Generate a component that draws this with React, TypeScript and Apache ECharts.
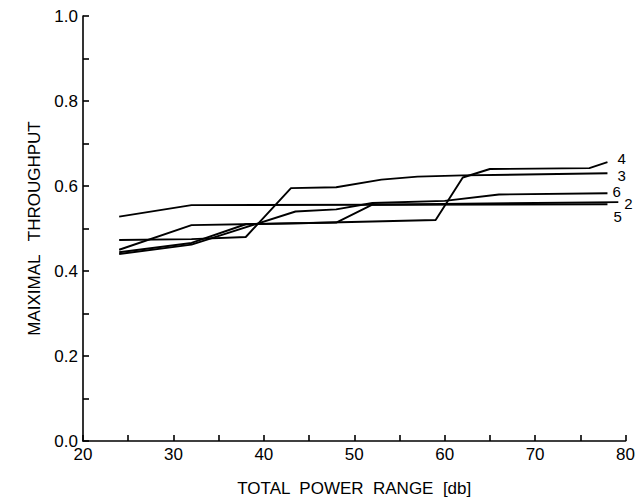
import React, { useEffect, useRef } from "react";
import * as echarts from "echarts";

// Curve values: [total power range (dB), maximal throughput]
const curve3: [number, number][] = [
  [24, 0.473], [32, 0.475], [38, 0.48], [43, 0.595], [48, 0.597], [53, 0.615], [57, 0.622], [62, 0.625], [78, 0.63],
];
const curve4: [number, number][] = [
  [24, 0.45], [32, 0.508], [45, 0.513], [59, 0.52], [62, 0.62], [65, 0.64], [76, 0.642], [78, 0.656],
];
const curve6: [number, number][] = [
  [24, 0.44], [32, 0.462], [43.5, 0.54], [48, 0.545], [52, 0.56], [60, 0.565], [66, 0.58], [78, 0.583],
];
const curve2: [number, number][] = [
  [24, 0.444], [32, 0.466], [38, 0.51], [48, 0.514], [52, 0.556], [79.2, 0.562],
];
const curve5: [number, number][] = [
  [24, 0.528], [32, 0.555], [78, 0.557],
];

const seriesNames = ["4", "3", "6", "2", "5"];
const seriesData = [curve4, curve3, curve6, curve2, curve5];
const labelOffsets: [number, number][] = [[6, -4], [6, 2], [1, -2], [2, 1], [2, 12]];

const xTicks = { min: 20, max: 80, interval: 5 };
const yTicks = { min: 0, max: 1, interval: 0.1 };

export default function App() {
  const ref = useRef<HTMLDivElement>(null);
  useEffect(() => {
    document.body.style.margin = "0";
    if (!ref.current) return;
    const chart = echarts.init(ref.current, undefined, { renderer: "svg" });
    const font = "Liberation Sans";
    chart.setOption({
      animation: false,
      backgroundColor: "#ffffff",
      grid: { left: 83, right: 8, top: 16, bottom: 56, containLabel: false },
      xAxis: {
        type: "value",
        min: xTicks.min,
        max: xTicks.max,
        interval: xTicks.interval,
        name: "TOTAL  POWER  RANGE  [db]",
        nameLocation: "middle",
        nameGap: 39,
        nameTextStyle: { color: "#000", fontFamily: font, fontSize: 17 },
        axisLine: { show: true, lineStyle: { color: "#000", width: 1.6 } },
        axisTick: { show: true, inside: true, length: 6, lineStyle: { color: "#000", width: 1.6 } },
        axisLabel: {
          color: "#000",
          fontFamily: font,
          fontSize: 17,
          margin: 5,
          formatter: (v: number) => (v % 10 === 0 ? String(v) : ""),
        },
        splitLine: { show: false },
      },
      yAxis: {
        type: "value",
        min: yTicks.min,
        max: yTicks.max,
        interval: yTicks.interval,
        name: "MAIXIMAL   THROUGHPUT",
        nameLocation: "middle",
        nameGap: 40,
        nameTextStyle: { color: "#000", fontFamily: font, fontSize: 17 },
        axisLine: { show: true, lineStyle: { color: "#000", width: 1.6 } },
        axisTick: { show: true, inside: true, length: 6, lineStyle: { color: "#000", width: 1.6 } },
        axisLabel: {
          color: "#000",
          fontFamily: font,
          fontSize: 17,
          margin: 5,
          formatter: (v: number) => {
            const r = Math.round(v * 10);
            return r % 2 === 0 ? (r / 10).toFixed(1) : "";
          },
        },
        splitLine: { show: false },
      },
      series: seriesData.map((d, i) => ({
        type: "line",
        name: seriesNames[i],
        data: d,
        symbol: "none",
        lineStyle: { color: "#000", width: 1.9 },
        endLabel: {
          show: true,
          formatter: seriesNames[i],
          color: "#000",
          fontFamily: font,
          fontSize: 15,
          distance: 4,
          offset: labelOffsets[i],
        },
      })),
    });
    return () => chart.dispose();
  }, []);
  return <div ref={ref} style={{ width: 638, height: 502 }} />;
}
